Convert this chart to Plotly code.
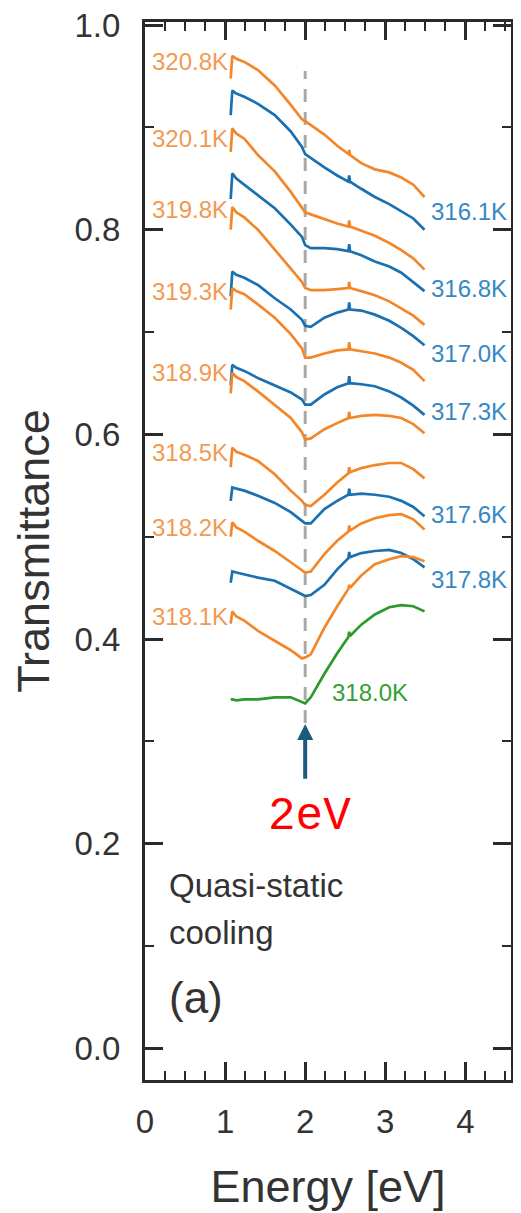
import plotly.graph_objects as go

# Photon energy grid (eV) shared by all spectra
energy = [1.07, 1.09, 1.14, 1.24, 1.41, 1.62, 1.82, 1.96, 2.00, 2.07, 2.24, 2.40,
          2.54, 2.55, 2.56, 2.70, 2.87, 3.05, 3.20, 3.35, 3.49]

# Transmittance spectra (top to bottom in the figure)
t_320_8 = [0.948, 0.970, 0.967, 0.964, 0.956, 0.941, 0.922, 0.908, 0.906, 0.902, 0.893, 0.882, 0.874, 0.878, 0.873, 0.865, 0.859, 0.856, 0.851, 0.844, 0.832]
t_316_1 = [0.912, 0.936, 0.933, 0.930, 0.923, 0.912, 0.896, 0.881, 0.874, 0.870, 0.861, 0.853, 0.847, 0.853, 0.847, 0.840, 0.832, 0.825, 0.818, 0.811, 0.800]
t_320_1 = [0.876, 0.899, 0.894, 0.889, 0.873, 0.857, 0.837, 0.822, 0.817, 0.815, 0.810, 0.806, 0.803, 0.809, 0.803, 0.799, 0.794, 0.787, 0.780, 0.772, 0.761]
t_316_8 = [0.830, 0.855, 0.850, 0.844, 0.834, 0.821, 0.805, 0.793, 0.785, 0.782, 0.782, 0.781, 0.779, 0.786, 0.779, 0.775, 0.769, 0.764, 0.758, 0.749, 0.740]
t_319_8 = [0.800, 0.822, 0.817, 0.812, 0.800, 0.781, 0.762, 0.749, 0.743, 0.741, 0.741, 0.742, 0.743, 0.749, 0.743, 0.740, 0.736, 0.730, 0.723, 0.716, 0.707]
t_317_0 = [0.735, 0.759, 0.756, 0.753, 0.746, 0.733, 0.722, 0.712, 0.706, 0.705, 0.714, 0.719, 0.722, 0.729, 0.722, 0.721, 0.717, 0.711, 0.704, 0.696, 0.687]
t_319_3 = [0.722, 0.743, 0.740, 0.737, 0.727, 0.714, 0.698, 0.684, 0.675, 0.675, 0.679, 0.682, 0.683, 0.690, 0.683, 0.681, 0.679, 0.675, 0.670, 0.663, 0.652]
t_317_3 = [0.648, 0.668, 0.665, 0.662, 0.655, 0.648, 0.641, 0.634, 0.629, 0.629, 0.639, 0.646, 0.650, 0.657, 0.650, 0.649, 0.647, 0.642, 0.636, 0.628, 0.619]
t_318_9 = [0.640, 0.660, 0.656, 0.652, 0.642, 0.629, 0.616, 0.602, 0.595, 0.596, 0.605, 0.611, 0.616, 0.622, 0.616, 0.618, 0.619, 0.618, 0.616, 0.610, 0.601]
t_318_5 = [0.568, 0.587, 0.583, 0.580, 0.574, 0.561, 0.545, 0.535, 0.531, 0.530, 0.541, 0.553, 0.562, 0.568, 0.563, 0.567, 0.570, 0.572, 0.572, 0.566, 0.557]
t_317_6 = [0.535, 0.548, 0.547, 0.545, 0.540, 0.533, 0.524, 0.516, 0.513, 0.513, 0.527, 0.535, 0.541, 0.547, 0.541, 0.542, 0.541, 0.539, 0.535, 0.529, 0.520]
t_318_2 = [0.500, 0.514, 0.509, 0.505, 0.496, 0.486, 0.475, 0.467, 0.465, 0.466, 0.483, 0.496, 0.505, 0.511, 0.506, 0.513, 0.518, 0.521, 0.522, 0.517, 0.507]
t_317_8 = [0.455, 0.466, 0.465, 0.463, 0.460, 0.457, 0.449, 0.444, 0.442, 0.443, 0.453, 0.468, 0.479, 0.485, 0.480, 0.484, 0.486, 0.487, 0.484, 0.478, 0.470]
t_318_1 = [0.415, 0.427, 0.422, 0.418, 0.408, 0.398, 0.389, 0.381, 0.382, 0.385, 0.411, 0.432, 0.449, 0.453, 0.450, 0.462, 0.473, 0.478, 0.481, 0.480, 0.476]
t_318_0 = [0.341, 0.341, 0.340, 0.341, 0.341, 0.343, 0.343, 0.338, 0.337, 0.343, 0.366, 0.386, 0.402, 0.407, 0.403, 0.414, 0.424, 0.431, 0.433, 0.432, 0.427]

series = [t_320_8, t_316_1, t_320_1, t_316_8, t_319_8, t_317_0, t_319_3, t_317_3,
          t_318_9, t_318_5, t_317_6, t_318_2, t_317_8, t_318_1, t_318_0]
kinds = ["o", "b", "o", "b", "o", "b", "o", "b", "o", "o", "b", "o", "b", "o", "g"]

# Axis tick values
y_ticks = [0.0, 0.2, 0.4, 0.6, 0.8, 1.0]
y_tick_text = ["0.0", "0.2", "0.4", "0.6", "0.8", "1.0"]
x_ticks = [0, 1, 2, 3, 4]

# Temperature labels
left_labels = ["320.8K", "320.1K", "319.8K", "319.3K", "318.9K", "318.5K", "318.2K", "318.1K"]
left_label_y = [0.964, 0.889, 0.820, 0.740, 0.660, 0.582, 0.509, 0.422]
right_labels = ["316.1K", "316.8K", "317.0K", "317.3K", "317.6K", "317.8K"]
right_label_y = [0.818, 0.743, 0.679, 0.622, 0.522, 0.458]
green_label = "318.0K"
green_label_pos = (2.31, 0.348)

line_colors = {"o": "#f4862a", "b": "#1b70b0", "g": "#2a9a2a"}
label_colors = {"o": "#f29a52", "b": "#3688c4", "g": "#35a035"}

FONT = "Liberation Sans, Arial, Helvetica, sans-serif"
AX = "#2a2a2a"

fig = go.Figure()
for s, k in zip(series, kinds):
    fig.add_trace(go.Scatter(x=energy, y=s, mode="lines",
                             line=dict(color=line_colors[k], width=2.7),
                             showlegend=False, hoverinfo="skip"))

# dashed guide line at 2 eV
fig.add_shape(type="line", xref="x", yref="y", x0=2.0, x1=2.0, y0=0.318, y1=0.955,
              line=dict(color="#a9a9a9", width=3, dash="13px,10px"), layer="below")

ann = []
for t, y in zip(left_labels, left_label_y):
    ann.append(dict(x=1.06, y=y, text=t, showarrow=False, xanchor="right", yanchor="middle",
                    font=dict(family=FONT, size=24, color=label_colors["o"])))
for t, y in zip(right_labels, right_label_y):
    ann.append(dict(x=3.55, y=y, text=t, showarrow=False, xanchor="left", yanchor="middle",
                    font=dict(family=FONT, size=24, color=label_colors["b"])))
ann.append(dict(x=green_label_pos[0], y=green_label_pos[1], text=green_label, showarrow=False,
                xanchor="left", yanchor="middle",
                font=dict(family=FONT, size=24, color=label_colors["g"])))
# arrow at 2 eV
ann.append(dict(x=2.0, y=0.317, ax=2.0, ay=0.262, axref="x", ayref="y", xref="x", yref="y",
                text="", showarrow=True, arrowhead=2, arrowsize=0.8, arrowwidth=4,
                arrowcolor="#1d5a80"))
ann.append(dict(x=2.06, y=0.226, text="2eV", showarrow=False, xanchor="center", yanchor="middle",
                font=dict(family="Courier New, Liberation Mono, monospace", size=46, color="#ff0000")))
ann.append(dict(x=0.28, y=0.159, text="Quasi-static", showarrow=False, xanchor="left",
                yanchor="middle", font=dict(family=FONT, size=33, color="#333333")))
ann.append(dict(x=0.28, y=0.1135, text="cooling", showarrow=False, xanchor="left",
                yanchor="middle", font=dict(family=FONT, size=33, color="#333333")))
ann.append(dict(x=0.28, y=0.050, text="(a)", showarrow=False, xanchor="left",
                yanchor="middle", font=dict(family=FONT, size=44, color="#333333")))

# the page body adds an 8px offset, so the figure is sized to fit the window
fig.update_layout(
    width=513, height=1205,
    margin=dict(l=137, r=10, t=14, b=133, autoexpand=False),
    paper_bgcolor="white", plot_bgcolor="white",
    annotations=ann,
    font=dict(family=FONT, color="#333333"),
)
fig.update_xaxes(range=[0, 4.57], showgrid=False, zeroline=False, automargin=False,
                 showline=True, linecolor=AX, linewidth=3, mirror="allticks",
                 ticks="inside", ticklen=18, tickwidth=2.5, tickcolor=AX,
                 tickmode="array", tickvals=x_ticks,
                 tickfont=dict(family=FONT, size=33, color="#333333"),
                 ticklabelstandoff=10, ticklabeloverflow="allow",
                 minor=dict(ticks="inside", ticklen=9, tickwidth=2, tickcolor=AX,
                            tickmode="linear", tick0=0, dtick=0.25, showgrid=False),
                 title=dict(text="Energy [eV]", font=dict(family=FONT, size=45, color="#333333"), standoff=32))
fig.update_yaxes(range=[-0.031, 1.003], showgrid=False, zeroline=False, automargin=False,
                 showline=True, linecolor=AX, linewidth=3, mirror="allticks",
                 ticks="inside", ticklen=18, tickwidth=2.5, tickcolor=AX,
                 tickmode="array", tickvals=y_ticks, ticktext=y_tick_text,
                 tickfont=dict(family=FONT, size=33, color="#333333"),
                 ticklabelstandoff=15, ticklabeloverflow="allow",
                 minor=dict(ticks="inside", ticklen=9, tickwidth=2, tickcolor=AX,
                            tickmode="linear", tick0=0, dtick=0.1, showgrid=False),
                 title=dict(text="Transmittance", font=dict(family=FONT, size=45, color="#333333"), standoff=12))

fig.write_html("out.html")
